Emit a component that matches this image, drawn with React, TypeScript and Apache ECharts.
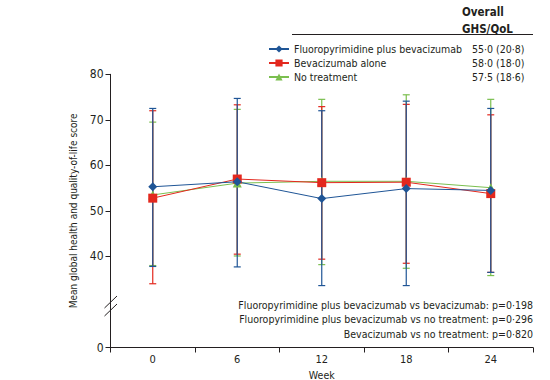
import React, { useEffect, useRef } from 'react';
import * as echarts from 'echarts';

const weeks = ['0', '6', '12', '18', '24'];
const seriesNames = ['Fluoropyrimidine plus bevacizumab', 'Bevacizumab alone', 'No treatment'];
const overallValues = ['55·0 (20·8)', '58·0 (18·0)', '57·5 (18·6)'];
const colors = ['#1f5596', '#e3281e', '#7bbf4f'];
const symbols = ['diamond', 'rect', 'triangle'];

const fpbMean = [55.3, 56.4, 52.7, 54.9, 54.5];
const fpbLow = [37.8, 37.7, 33.6, 33.6, 36.5];
const fpbHigh = [72.5, 74.7, 72.0, 74.1, 72.5];
const bevMean = [52.8, 57.0, 56.2, 56.3, 53.8];
const bevLow = [34.0, 40.5, 39.4, 38.5, 36.5];
const bevHigh = [72.0, 73.3, 72.9, 73.4, 71.1];
const noMean = [53.5, 56.1, 56.5, 56.5, 55.1];
const noLow = [38.0, 40.1, 38.2, 37.4, 35.8];
const noHigh = [69.5, 72.3, 74.5, 75.5, 74.5];

const yTickValues = [20, 40, 50, 60, 70, 80];
const pValueLines = [
  'Fluoropyrimidine plus bevacizumab vs bevacizumab: p=0·198',
  'Fluoropyrimidine plus bevacizumab vs no treatment: p=0·296',
  'Bevacizumab vs no treatment: p=0·820',
];

const FONT = "'DejaVu Sans Condensed', 'Liberation Sans Narrow', sans-serif";
const TXT = '#231f20';
const FS = 10.5;

export default function App() {
  const ref = useRef<HTMLDivElement>(null);
  useEffect(() => {
    if (!ref.current) return;
    const chart = echarts.init(ref.current, undefined, { renderer: 'svg' });
    const means = [fpbMean, bevMean, noMean];
    const lows = [fpbLow, bevLow, noLow];
    const highs = [fpbHigh, bevHigh, noHigh];

    const errSeries = [2, 1, 0].map((i) => ({
      type: 'custom',
      name: seriesNames[i] + ' SD',
      z: 2,
      silent: true,
      data: weeks.map((_, k) => [k, lows[i][k], highs[i][k]]),
      renderItem: (params: any, api: any) => {
        const x = api.value(0);
        const pLo = api.coord([x, api.value(1)]);
        const pHi = api.coord([x, api.value(2)]);
        const w = 3.5;
        const style = { stroke: colors[i], lineWidth: 1.2 };
        return {
          type: 'group',
          children: [
            { type: 'line', shape: { x1: pLo[0], y1: pLo[1], x2: pHi[0], y2: pHi[1] }, style },
            { type: 'line', shape: { x1: pLo[0] - w, y1: pLo[1], x2: pLo[0] + w, y2: pLo[1] }, style },
            { type: 'line', shape: { x1: pHi[0] - w, y1: pHi[1], x2: pHi[0] + w, y2: pHi[1] }, style },
          ],
        };
      },
    }));

    const lineSeries = [2, 1, 0].map((i) => ({
      type: 'line',
      name: seriesNames[i],
      z: 3,
      data: means[i],
      symbol: symbols[i],
      symbolSize: 9,
      itemStyle: { color: colors[i] },
      lineStyle: { color: colors[i], width: 1 },
    }));

    chart.setOption({
      animation: false,
      textStyle: { fontFamily: FONT },
      grid: { left: 110.5, right: 17, top: 74.3, bottom: 32.5, containLabel: false, outerBoundsMode: 'none' },
      legend: {
        data: seriesNames,
        orient: 'vertical',
        left: 263,
        top: 38.5,
        itemGap: 3,
        itemWidth: 20,
        itemHeight: 9,
        formatter: (name: string) => {
          const idx = seriesNames.indexOf(name);
          return `{n|${name}}{v|${overallValues[idx]}}`;
        },
        textStyle: {
          fontFamily: FONT,
          fontSize: FS,
          color: TXT,
          rich: {
            n: { width: 178, fontFamily: FONT, fontSize: FS, color: TXT },
            v: { fontFamily: FONT, fontSize: FS, color: TXT },
          },
        },
      },
      xAxis: {
        type: 'category',
        data: weeks,
        boundaryGap: true,
        name: 'Week',
        nameLocation: 'middle',
        nameGap: 20,
        nameTextStyle: { fontFamily: FONT, fontSize: FS, color: TXT },
        axisLine: { lineStyle: { color: TXT, width: 1 } },
        axisTick: { show: true, length: 5, lineStyle: { color: TXT } },
        axisLabel: { color: TXT, fontSize: 11, fontFamily: FONT, margin: 6, interval: 0 },
      },
      yAxis: {
        type: 'value',
        min: 20,
        max: 80,
        interval: 10,
        name: 'Mean global health and quality-of-life score',
        nameLocation: 'middle',
        nameGap: 32,
        nameRotate: 90,
        nameTextStyle: { fontFamily: FONT, fontSize: 10, color: TXT },
        splitLine: { show: false },
        axisLine: { show: true, lineStyle: { color: TXT, width: 1 } },
        axisTick: { show: true, length: 5, lineStyle: { color: TXT }, customValues: yTickValues },
        axisLabel: {
          color: TXT,
          fontSize: 12,
          fontFamily: FONT,
          margin: 7,
          customValues: yTickValues,
          formatter: (v: number) => (v === 20 ? '0' : String(v)),
        },
      },
      graphic: [
        {
          type: 'text',
          left: 462,
          top: 3,
          style: { text: 'Overall\nGHS/QoL', font: `bold 11.5px ${FONT}`, fill: TXT, lineHeight: 17 },
        },
        {
          type: 'line',
          shape: { x1: 292, y1: 34.5, x2: 533, y2: 34.5 },
          style: { stroke: TXT, lineWidth: 1 },
        },
        {
          type: 'line',
          shape: { x1: 104.5, y1: 308, x2: 117, y2: 296 },
          style: { stroke: TXT, lineWidth: 1 },
        },
        {
          type: 'line',
          shape: { x1: 104.5, y1: 316, x2: 117, y2: 304 },
          style: { stroke: TXT, lineWidth: 1 },
        },
        ...pValueLines.map((t, k) => ({
          type: 'text',
          x: 533,
          y: 304.5 + k * 14.5,
          style: {
            text: t,
            font: `${FS}px ${FONT}`,
            fill: TXT,
            textAlign: 'right',
            textVerticalAlign: 'middle',
          },
        })),
      ],
      series: [...errSeries, ...lineSeries],
    } as any);

    return () => chart.dispose();
  }, []);
  return <div ref={ref} style={{ width: 550, height: 380, position: 'absolute', left: 0, top: 0 }} />;
}
